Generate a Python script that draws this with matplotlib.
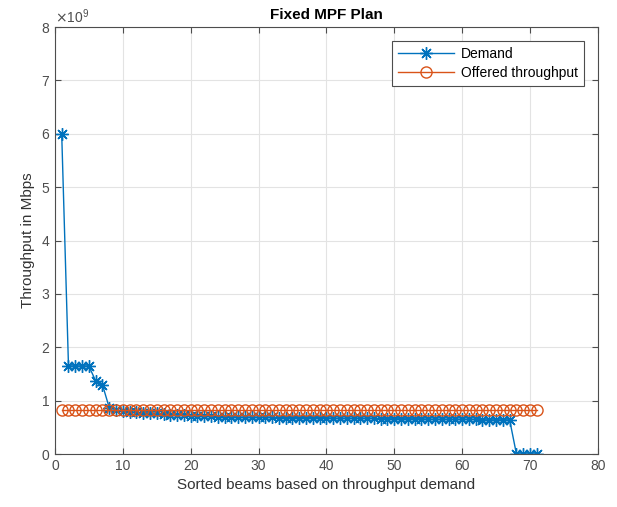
import numpy as np
import matplotlib.pyplot as plt
from matplotlib.ticker import ScalarFormatter

plt.rcParams['font.family'] = ['Liberation Sans', 'DejaVu Sans']

# Demand per beam (bps), sorted
demand = [6.0, 1.65, 1.65, 1.65, 1.65, 1.37, 1.30, 0.87, 0.83, 0.80,
          0.79, 0.78, 0.77, 0.77, 0.76, 0.75, 0.74, 0.74, 0.73, 0.72,
          0.72, 0.71, 0.71, 0.70, 0.70, 0.70, 0.69, 0.69, 0.69, 0.69,
          0.69, 0.69, 0.68, 0.68, 0.68, 0.68, 0.68, 0.68, 0.68, 0.68,
          0.67, 0.67, 0.67, 0.67, 0.67, 0.67, 0.67, 0.66, 0.66, 0.66,
          0.66, 0.66, 0.66, 0.66, 0.65, 0.65, 0.65, 0.65, 0.65, 0.65,
          0.65, 0.65, 0.64, 0.64, 0.64, 0.64, 0.64, 0.0, 0.0, 0.0, 0.0]
offered = [0.83] * 71
beams = np.arange(1, len(demand) + 1)

demand = np.array(demand) * 1e9
offered = np.array(offered) * 1e9

fig = plt.figure(figsize=(6.17, 5.07), dpi=100)
ax = fig.add_axes([0.089, 0.1045, 0.88, 0.8422])

# matlab style asterisk marker
ax.plot(beams, demand, color='#0072BD', marker=(8, 2, 0), markersize=9, linewidth=1,
        markeredgewidth=1, label='Demand')
ax.plot(beams, offered, color='#D95319', marker='o', markersize=8, linewidth=1,
        markerfacecolor='none', markeredgewidth=1, label='Offered throughput')

ax.set_xlim(0, 80)
ax.set_ylim(0, 8e9)
ax.set_xticks(np.arange(0, 81, 10))
ax.set_yticks(np.arange(0, 8.1e9, 1e9))

fmt = ScalarFormatter(useMathText=True)
fmt.set_powerlimits((0, 0))
ax.yaxis.set_major_formatter(fmt)
ax.yaxis.get_offset_text().set_fontsize(10)
ax.yaxis.get_offset_text().set_color('#4d4d4d')

ax.grid(True, color='#e3e3e3', linewidth=0.8)
ax.set_axisbelow(True)
ax.tick_params(direction='in', labelsize=10, colors='#4d4d4d', length=4,
               top=True, right=True)
for s in ax.spines.values():
    s.set_color('#4d4d4d')
    s.set_linewidth(0.8)

ax.set_title('Fixed MPF Plan', fontsize=11, fontweight='bold', color='#000000')
ax.set_xlabel('Sorted beams based on throughput demand', fontsize=11, color='#333333')
ax.set_ylabel('Throughput in Mbps', fontsize=11, color='#333333')

leg = ax.legend(loc='upper right', fontsize=10, fancybox=False, framealpha=1,
                edgecolor='#4d4d4d', borderaxespad=1.0, handlelength=4.0,
                borderpad=0.45, labelspacing=0.35, handletextpad=0.5)
leg.get_frame().set_linewidth(0.8)

fig.savefig('out.png', dpi=100)
